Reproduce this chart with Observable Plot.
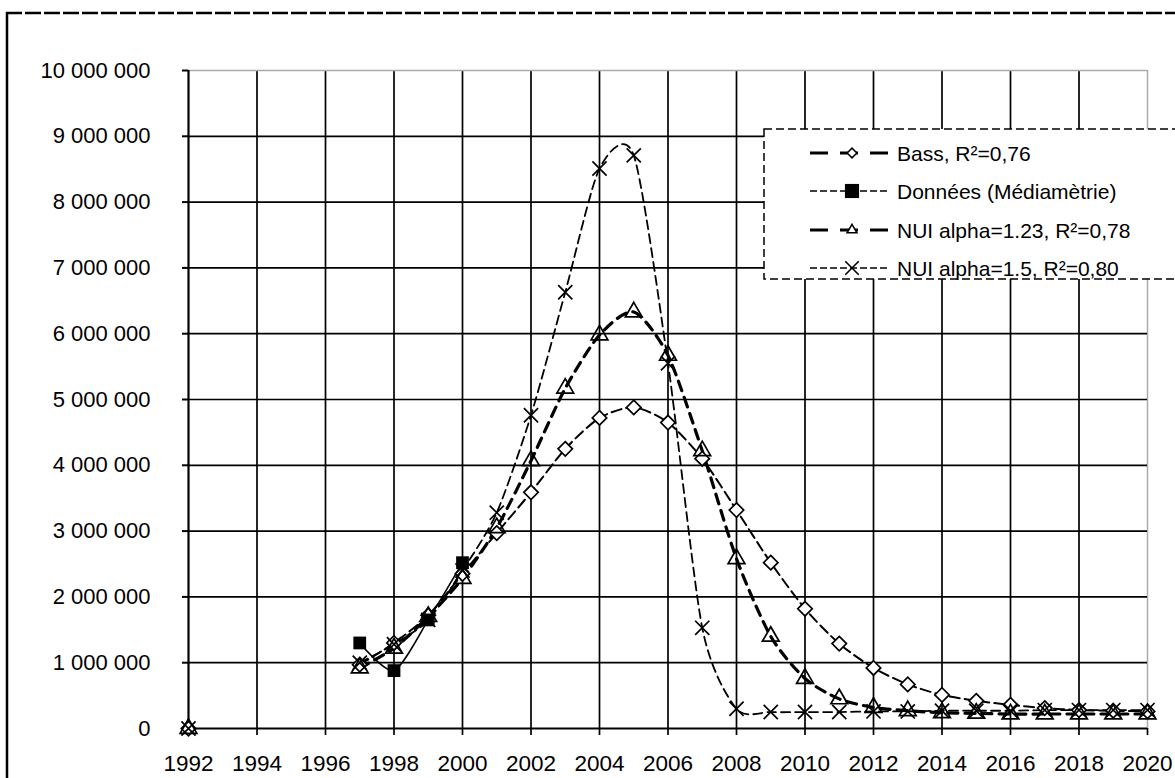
<!DOCTYPE html>
<html><head><meta charset="utf-8">
<script src="https://cdn.jsdelivr.net/npm/d3@7"></script>
<script src="https://cdn.jsdelivr.net/npm/@observablehq/plot@0.6"></script>
<style>
body{margin:0;background:#fff;font-family:"Liberation Sans",Arial,sans-serif;overflow:hidden}
#wrap{position:relative;width:1175px;height:778px;overflow:hidden}
#wrap svg{position:absolute;left:0;top:0}
</style></head><body><div id="wrap"></div>
<script>
// Years (1993-1996 empty => gap in curves)
const years = [1992,1993,1994,1995,1996,1997,1998,1999,2000,2001,2002,2003,2004,2005,2006,2007,2008,2009,2010,2011,2012,2013,2014,2015,2016,2017,2018,2019,2020];
const bass = [0,null,null,null,null,970000,1300000,1720000,2350000,2970000,3590000,4250000,4720000,4880000,4650000,4100000,3320000,2520000,1820000,1290000,920000,670000,510000,420000,360000,310000,280000,270000,260000];
const donneesYears = [1997,1998,1999,2000];
const donnees = [1300000,880000,1650000,2520000];
const nui123 = [0,null,null,null,null,920000,1220000,1700000,2280000,3050000,4070000,5170000,5980000,6330000,5670000,4220000,2580000,1400000,760000,450000,320000,270000,240000,230000,220000,220000,220000,220000,220000];
const nui15 = [0,null,null,null,null,1000000,1280000,1650000,2400000,3280000,4760000,6630000,8510000,8710000,5550000,1530000,300000,250000,250000,250000,260000,260000,270000,270000,270000,280000,280000,280000,280000];
const xTicks = [1992,1994,1996,1998,2000,2002,2004,2006,2008,2010,2012,2014,2016,2018,2020];
const yTicks = [0,1000000,2000000,3000000,4000000,5000000,6000000,7000000,8000000,9000000,10000000];
const seriesNames = ["Bass, R²=0,76","Données (Médiamètrie)","NUI alpha=1.23, R²=0,78","NUI alpha=1.5, R²=0,80"];

const fmt = d => d3.format(",")(d).replace(/,/g, " ");
const toRows = (xs, vs) => xs.map((x, i) => ({x, y: vs[i] == null ? NaN : vs[i]}));
const rBass = toRows(years, bass);
const rDon = toRows(donneesYears, donnees);
const rN123 = toRows(years, nui123);
const rN15 = toRows(years, nui15);
const pts = rows => rows.filter(d => !isNaN(d.y));

const styles = [
  {stroke:"#000", strokeWidth:2, strokeDasharray:"10,5", symbol:"diamond2", r:6.5, fill:"white"},
  {stroke:"#000", strokeWidth:1.6, strokeDasharray:null, symbol:"square", r:7.2, fill:"#000"},
  {stroke:"#000", strokeWidth:3.2, strokeDasharray:"10,7", symbol:"triangle2", r:8, fill:"none"},
  {stroke:"#000", strokeWidth:1.8, strokeDasharray:"9,5", symbol:"times", r:6.5, fill:"none"}
];
const allRows = [rBass, rDon, rN123, rN15];

const marks = [
  Plot.ruleX(xTicks.filter(d => d > 1992 && d < 2020), {stroke:"#000", strokeWidth:1.7}),
  Plot.ruleX([2020], {stroke:"#aaa", strokeWidth:1.5}),
  Plot.ruleY(yTicks.filter(d => d > 0 && d < 10000000), {stroke:"#000", strokeWidth:1.7}),
  Plot.ruleY([10000000], {stroke:"#aaa", strokeWidth:1.5}),
  Plot.ruleX([1992], {stroke:"#000", strokeWidth:2.2}),
  Plot.ruleY([0], {stroke:"#000", strokeWidth:2}),
  Plot.axisY({ticks:yTicks, tickSize:6, tickPadding:32, tickFormat:fmt, label:null, strokeWidth:2, fontSize:22}),
  Plot.axisX({ticks:xTicks, tickSize:7, tickPadding:20, tickFormat:d => String(d), label:null, strokeWidth:1.7, fontSize:22.5})
];
allRows.forEach((rows, i) => {
  const s = styles[i];
  const opt = {x:"x", y:"y", stroke:s.stroke, strokeWidth:s.strokeWidth, curve:"cardinal", tension:0.25};
  if (s.strokeDasharray) opt.strokeDasharray = s.strokeDasharray;
  marks.push(Plot.line(rows, opt));
});
allRows.forEach((rows, i) => {
  const s = styles[i];
  marks.push(Plot.dot(pts(rows), {x:"x", y:"y", symbol:s.symbol, r:s.r, fill:s.fill, stroke:"#000", strokeWidth: i === 1 ? 0 : 1.7}));
});

const plot = Plot.plot({
  width:1175, height:778,
  marginLeft:188, marginRight:28, marginTop:70, marginBottom:50,
  style:{fontFamily:'"Liberation Sans", Arial, sans-serif', fontSize:"21px", color:"#000", background:"transparent", overflow:"visible"},
  x:{domain:[1992,2020]},
  y:{domain:[0,10000000]},
  marks
});
const wrap = document.getElementById("wrap");
wrap.appendChild(plot);

// Overlay: frame + legend
const ov = d3.create("svg").attr("width",1175).attr("height",778)
  .style("font-family",'"Liberation Sans", Arial, sans-serif').style("font-size","21px");
ov.append("line").attr("x1",6).attr("x2",1175).attr("y1",13).attr("y2",13)
  .attr("stroke","#000").attr("stroke-width",2.5).attr("stroke-dasharray","16,3");
ov.append("line").attr("x1",7).attr("x2",7).attr("y1",12).attr("y2",778)
  .attr("stroke","#000").attr("stroke-width",2.5);

ov.append("rect").attr("x",764).attr("y",129).attr("width",430).attr("height",150)
  .attr("fill","white").attr("stroke","#000").attr("stroke-width",1.5).attr("stroke-dasharray","8,4");
const rowY = [153,191,230,268];
const legLine = [
  {w:3, dash:"18,12"},
  {w:1.5, dash:"7,3"},
  {w:3, dash:"18,12"},
  {w:1.5, dash:"7,3"}
];
const legSym = [
  {type:d3.symbolDiamond2, size:60, fill:"white", sw:1.5},
  {type:d3.symbolSquare, size:200, fill:"#000", sw:0},
  {type:d3.symbolTriangle2, size:70, fill:"white", sw:1.5},
  {type:d3.symbolTimes, size:120, fill:"none", sw:1.6}
];
seriesNames.forEach((name, i) => {
  const y = rowY[i];
  ov.append("line").attr("x1",810).attr("x2",888).attr("y1",y).attr("y2",y)
    .attr("stroke","#000").attr("stroke-width",legLine[i].w).attr("stroke-dasharray",legLine[i].dash);
  ov.append("path").attr("d", d3.symbol(legSym[i].type, legSym[i].size)())
    .attr("transform",`translate(852,${y})`)
    .attr("fill",legSym[i].fill).attr("stroke","#000").attr("stroke-width",legSym[i].sw);
  ov.append("text").attr("x",897).attr("y",y).attr("dy","0.36em").attr("fill","#000").text(name);
});
wrap.appendChild(ov.node());
</script></body></html>
